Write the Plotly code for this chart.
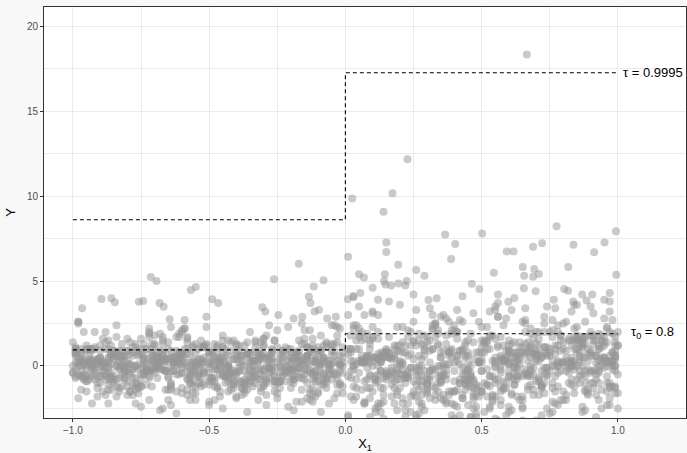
import plotly.graph_objects as go

# ---- data (estimated) ----
left_x = [
-.83,-.12,-.47,-.95,-.31,-.66,-.05,-.74,-.29,-.58,-.91,-.18,-.42,-.87,-.63,-.09,-.36,-.71,-.99,-.24,
-.55,-.14,-.78,-.39,-.97,-.61,-.03,-.46,-.82,-.27,-.69,-.11,-.53,-.89,-.34,-.76,-.21,-.6,-.94,-.07,
-.44,-.85,-.17,-.72,-.33,-.5,-.93,-.26,-.65,-.02,-.79,-.4,-.57,-.15,-.88,-.3,-.68,-.98,-.2,-.52,
-.37,-.8,-.08,-.62,-.45,-.92,-.23,-.7,-.13,-.56,-.86,-.32,-.75,-.01,-.48,-.96,-.28,-.64,-.1,-.84,
-.59,-.19,-.73,-.41,-.9,-.35,-.06,-.67,-.81,-.25,-.54,-1.0,-.16,-.43,-.77,-.38,-.04,-.63,-.88,-.22,
-.5,-.97,-.31,-.7,-.12,-.58,-.84,-.27,-.45,-.93,-.06,-.66,-.39,-.8,-.18,-.53,-.99,-.34,-.73,-.09,
-.61,-.24,-.87,-.42,-.15,-.76,-.3,-.95,-.49,-.02,-.68,-.36,-.82,-.2,-.57,-.91,-.11,-.46,-.74,-.28,
-.65,-.05,-.89,-.4,-.71,-.17,-.55,-.98,-.33,-.79,-.13,-.6,-.26,-.86,-.44,-.08,-.69,-.37,-.94,-.21,
-.52,-.83,-.14,-.47,-.77,-.29,-1.0,-.62,-.03,-.41,-.9,-.23,-.56,-.72,-.1,-.35,-.85,-.48,-.19,-.67,
-.96,-.32,-.58,-.07,-.75,-.43,-.88,-.25,-.64,-.16,-.51,-.81,-.38,-.01,-.7,-.99,-.27,-.54,-.12,-.78,
-.45,-.92,-.2,-.63,-.34,-.86,-.09,-.57,-.74,-.3,-.97,-.41,-.15,-.68,-.49,-.82,-.04,-.6,-.23,-.9,
-.37,-.71,-.13,-.55,-.95,-.28,-.66,-.06,-.8,-.44,-.18,-.87,-.52,-.33,-.76,-.11,-.59,-.93,-.24,-.47,
-.69,-.02,-.84,-.39,-.61,-.17,-.98,-.31,-.73,-.5,-.08,-.89,-.26,-.65,-.42,-.14,-.79,-.35,-.56,-1.0,
-.21,-.62,-.91,-.46,-.1,-.77,-.29,-.53,-.85,-.05,-.4,-.7,-.19,-.94,-.58,-.32,-.83,-.12,-.67,-.48,
-.36,-.88,-.03,-.6,-.25,-.75,-.43,-.96,-.16,-.54,-.81,-.38,-.07,-.72,-.27,-.64,-.99,-.2,-.51,-.86,
-.14,-.57,-.3,-.92,-.45,-.68,-.09,-.78,-.34,-.61,-.22,-.87,-.49,-.01,-.74,-.4,-.95,-.17,-.63,-.28,
-.82,-.11,-.53,-.97,-.37,-.7,-.05,-.59,-.24,-.89,-.44,-.15,-.76,-.32,-.66,-.93,-.08,-.5,-.85,-.19,
-.41,-.73,-.26,-.62,-.98,-.13,-.55,-.35,-.8,-.04,-.69,-.47,-.21,-.91,-.58,-.1,-.77,-.31,-.65,-.99,
-.23,-.84,-.46,-.06,-.71,-.39,-.94,-.18,-.6,-.29,-.87,-.52,-.12,-.75,-.43,-.97,-.33,-.67,-.02,-.56,
-.9,-.27,-.64,-.14,-.81,-.48,-.36,-.72,-.07,-.58,-.95,-.2,-.42,-.86,-.3,-.61,-.16,-.79,-.5,-.03,
-.74,-.38,-.93,-.11,-.55,-.83,-.25,-.68,-.44,-.01,-.88,-.34,-.6,-.17,-.77,-.49,-.96,-.22,-.63,-.09,
-.47,-.85,-.19,-.7,-.31,-.99,-.54,-.13,-.66,-.4,-.82,-.06,-.57,-.28,-.92,-.45,-.15,-.73,-.35,-.62,
-.97,-.24,-.51,-.78,-.08,-.42,-.89,-.3,-.65,-.18,-.53,-.94,-.37,-.71,-.04,-.59,-.83,-.26,-.48,-.12,
-.69,-.33,-.87,-.46,-.1,-.76,-.21,-.6,-.98,-.39,-.14,-.8,-.52,-.29,-.91,-.05,-.67,-.43,-.75,-.23,
-.56,-.02,-.84,-.36,-.63,-.95,-.17,-.5,-.72,-.27,-.88,-.41,-.09,-.58,-.79,-.32,-1.0,-.2,-.45,-.7,
-.13,-.61,-.9,-.38,-.55,-.07,-.81,-.28,-.68,-.44,-.96,-.16,-.74,-.34,-.52,-.86,-.01,-.64,-.25,-.93,
-.4,-.77,-.11,-.57,-.3,-.85,-.49,-.19,-.99,-.66,-.06,-.42,-.73,-.35,-.89,-.15,-.6,-.24,-.82,-.47,
-.71,-.08,-.54,-.92,-.26,-.63,-.37,-.8,-.12,-.5,-.94,-.31,-.69,-.03,-.58,-.21,-.87,-.45,-.76,-.33,
-.18,-.65,-.97,-.43,-.1,-.78,-.29,-.56,-.84,-.39,-.14,-.71,-.91,-.05,-.48,-.62,-.23,-.99,-.36,-.53,
-.86,-.27,-.6,-.04,-.75,-.41,-.93,-.2,-.67,-.32,-.08,-.52,-.81,-.46,-.16,-.72,-.98,-.3,-.57,-.11,
-.04,-.57,-.86,-.22,-.69,-.35,-.92,-.13,-.48,-.78,-.3,-.61,-.97,-.16,-.44,-.74,-.08,-.53,-.89,-.27,
-.66,-.19,-.41,-.95,-.02,-.72,-.5,-.83,-.26,-.6,-.11,-.38,-.79,-.55,-.99,-.33,-.7,-.06,-.46,-.87,
-.28,-.75,-.14,-.52,-.9,-.37,-.64,-.01,-.81,-.45,-.23,-.96,-.58,-.1,-.68,-.31,-.85,-.42,-.17,-.62,
-.93,-.09,-.49,-.77,-.34,-.56,-.18,-.88,-.63,-.03,-.73,-.4,-.98,-.25,-.54,-.82,-.12,-.67,-.36,-.5,
-.15,-.71,-.43,-.07,-.84,-.29,-.59,-.94,-.2,-.47,-.76,-.11,-.65,-.39,-.91,-.05,-.55,-.8,-.32,-.97,
-.6,-.24,-.87,-.45,-.13,-.68,-.99,-.36,-.78,-.02,-.51,-.29,-.93,-.64,-.17,-.42,-.72,-.08,-.85,-.57,
-.33,-.9,-.06,-.62,-.48,-.81,-.21,-.7,-.38,-.96,-.14,-.55,-.87,-.27,-.66,-.01,-.44,-.79,-.19,-.74,
-.52,-.12,-.95,-.31,-.67,-.4,-.83,-.09,-.58,-.23,-.91,-.46,-.75,-.35,-.03,-.63,-.98,-.18,-.5,-.86,
-.79,-.37,-.2,-.73,-.05,-.54,-.89,-.43,-.15,-.68,-.32,-.97,-.6,-.1,-.82,-.47,-.25,-.71,-.39,-.94,
-.07,-.64,-.3,-.88,-.56,-.16,-.77,-.41,-.99,-.22,-.69,-.04,-.53,-.84,-.35,-.61,-.13,-.9,-.45,-.28,
-.71,-.48,-.92,-.17,-.62,-.26,-.84,-.57,-.08,-.39,-.75,-.98,-.3,-.65,-.12,-.5,-.81,-.2,-.95,-.43,
-.36,-.85,-.1,-.58,-.77,-.02,-.46,-.93,-.27,-.7,-.53,-.14,-.88,-.37,-.6,-.06,-.74,-.31,-.49,-.83,
-.99,-.22,-.64,-.41,-.87,-.11,-.55,-.32,-.76,-.19,-.95,-.6,-.04,-.45,-.8,-.28,-.67,-.15,-.9,-.52,
-.14,-.78,-.35,-.96,-.5,-.24,-.69,-.07,-.82,-.43,-.61,-.18,-.91,-.33,-.73,-.56,-.03,-.86,-.4,-.65,
-.47,-.01,-.83,-.25,-.59,-.92,-.38,-.72,-.12,-.54,-.87,-.29,-.68,-.09,-.44,-.97,-.21,-.63,-.8,-.34,
]
left_y = [
.3,-.8,1.2,-.2,.7,-1.4,.1,-.5,1.8,-.1,.4,-2.1,.9,-.7,.2,-1.1,1.4,-.3,.6,.0,
-.4,1.1,-1.7,.2,-.6,.5,2.3,-.1,-1.2,.8,.0,-.9,.4,1.6,-.3,.1,-2.4,.7,-.5,1.3,
.6,-1.0,.2,1.9,-.2,-.7,.4,-1.5,1.0,.1,-.4,.8,-2.0,.3,-.6,1.2,-.1,2.6,-1.3,.5,
-.3,.9,-1.1,.0,1.5,-.8,.3,-.2,2.1,-1.6,.6,.2,-.5,1.1,-.9,.4,-.1,-2.3,.7,1.7,
1.0,-.6,.1,-1.3,.5,2.0,-.2,.8,-.4,-1.9,.3,1.4,-.7,.0,-1.0,.6,2.4,-.3,.2,-.9,
-.1,.4,-1.5,1.3,-.5,.7,-.8,.2,1.8,-2.2,.0,-.3,.9,-1.2,.5,1.1,-.6,.3,-.2,-2.7,
.8,-.9,.2,-.4,1.6,-1.1,.5,.1,-.7,2.2,-.2,-1.4,.6,1.0,-.5,.3,-1.8,.0,1.3,-.1,
-.7,1.2,-.3,.4,-1.2,.9,-.1,2.5,-.6,.1,-2.0,.7,1.5,-.4,.2,-.9,.5,-1.6,1.0,.3,
.2,-1.3,.6,-.2,1.1,-.8,.0,1.7,-.5,.4,-1.0,.9,-.3,2.0,-1.5,.1,-.6,1.3,.5,-2.5,
-.5,.3,1.4,-1.0,.7,-.1,-1.7,.2,.9,-.4,2.3,-.8,.1,-1.2,.6,1.0,-.2,.4,-2.1,.8,
1.1,-.2,-.9,.5,.0,-1.4,1.8,-.6,.3,-.3,.8,-1.1,2.1,.2,-.7,1.3,-1.9,.6,-.1,.4,
-.8,.6,.1,-1.6,1.2,-.4,.4,-2.2,.9,-.1,-.6,1.5,.3,-1.0,.7,-.3,2.7,.0,-1.3,.2,
.5,-1.1,.8,-.3,1.9,-.7,.2,-.5,1.0,-2.3,.4,.1,-.9,1.4,-.2,.6,-1.5,.3,1.1,-.4,
-.2,.9,-1.8,.4,-.6,1.3,.0,-1.2,.7,2.4,-.4,.2,-.8,1.0,-1.4,.5,-.1,1.6,.3,-2.0,
.7,-.5,.3,-1.3,1.1,-.1,-.9,2.0,.1,-.6,.6,-1.7,1.4,-.3,.4,-1.0,.8,-.2,2.9,-.7,
-1.0,.2,1.2,-.4,.5,-2.6,.9,-.2,-.7,1.7,.0,-1.1,.3,.8,-.5,1.3,-1.5,.6,-.3,.1,
.4,-.7,1.5,.0,-1.2,.6,-.3,2.2,-.9,.2,1.0,-.5,-1.6,.7,.3,-.1,1.2,-2.1,.5,-.8,
-.3,1.0,-.6,.3,-1.9,.8,.1,-1.0,1.6,-.4,.5,-.2,2.3,-1.3,.0,.9,-.7,.4,-1.4,1.1,
.9,-1.2,.2,-.5,1.3,.6,-.8,-.1,2.0,-1.7,.4,-.3,1.0,-2.4,.1,.7,-.6,1.5,-1.0,.3,
-.6,.5,-1.4,1.1,.0,-.2,.8,-2.0,.3,1.7,-.9,.2,-.4,1.2,-1.1,.6,2.5,-.5,.1,-1.6,
.1,-.9,1.0,-.3,.7,-1.5,2.1,.4,-.6,.0,1.4,-1.2,.3,-.1,-2.2,.8,-.7,1.1,.5,-.4,
-1.3,.6,-.2,1.8,-.8,.2,-.5,1.0,.4,-1.9,.9,-.1,-1.0,2.4,.1,-.6,1.3,-.3,.7,-2.8,
.3,-.4,1.2,-1.1,.5,-.7,.0,1.6,-2.0,.8,-.2,.2,-1.4,1.0,-.5,2.2,.6,-.9,.4,-1.7,
-.7,1.4,-.1,.4,-1.6,.9,-.4,.1,2.6,-1.0,.6,-.3,1.1,-2.3,.2,-.8,1.7,.0,-1.2,.5,
1.2,-.3,-1.8,.7,.2,-.6,1.5,-1.1,.4,-.1,2.0,-.9,.0,1.0,-1.5,.5,-.4,.8,-2.5,.3,
-.4,.8,.0,-1.3,1.3,-.7,.5,-.2,1.9,-1.0,.3,-2.1,.6,-.5,1.1,.1,-1.6,2.3,-.1,.9,
.6,-1.4,.4,-.2,1.6,-.8,.1,-2.6,1.0,.3,-.5,1.4,-1.1,.7,-.3,.0,2.1,-.9,.5,-1.2,
-.1,.5,-1.0,2.0,-.6,.2,1.2,-1.7,.8,-.4,.4,-1.3,.0,1.8,-.7,.6,-2.2,1.1,-.2,.3,
.8,-.6,.3,-1.5,1.1,-.1,.5,-.9,2.4,-.3,-1.9,.7,.1,1.3,-1.2,.4,-.5,.9,-2.7,.2,
-.9,1.0,-.4,.6,-1.2,1.5,.0,-.2,.8,-2.0,.3,1.2,-.7,.2,-1.4,2.2,-.5,.7,-1.0,.4,
.2,-.5,.7,-.1,.4,-.9,1.0,-.3,.0,.6,-1.2,.3,-.6,1.3,-.2,.5,-.8,.1,-1.5,.8,
-.3,.4,-1.0,.9,.1,-.6,.6,-.2,1.5,-.4,.2,-1.3,.7,.0,-.7,1.1,-.1,.3,-1.8,.5,
.6,-.8,.2,-.4,1.2,.0,-1.1,.5,-.3,.8,-.6,.1,1.6,-.9,.4,-.2,.9,-1.4,.3,-.5,
-.6,.1,.9,-1.2,.3,-.3,.7,-.8,.2,1.4,-.1,-.5,.5,-1.6,1.0,.0,-.4,.6,-.9,.2,
.4,-.2,-.7,1.1,.0,-1.0,.5,.2,-.5,.8,-1.3,.3,-.1,1.2,-.6,.6,-2.0,.1,.9,-.3,
-.1,.7,-.4,.3,-1.4,.9,-.2,.5,-.7,.0,1.3,-.9,.2,-.3,.6,-1.1,1.7,-.5,.4,-.8,
.8,-.6,.1,-1.5,.5,-.1,1.0,-.4,.3,-.8,.6,-1.2,.0,.9,-.3,.2,-.6,1.4,-1.0,.4,
-.4,.3,-.9,.6,-.2,1.2,-.7,.1,-1.7,.7,.4,-.5,1.0,-.1,-1.1,.5,.0,-.3,.8,-.6,
.1,-1.0,.5,-.3,.9,-.6,.2,1.5,-.8,.4,-.2,-1.4,.7,.0,-.5,1.1,-.9,.3,-.1,.6,
-.8,.5,-.2,1.0,-1.2,.3,.0,-.6,.8,-.4,.2,1.3,-1.0,.6,-.3,.1,-1.6,.9,-.5,.4,
.3,-.7,1.1,-.1,.5,-1.1,.0,.7,-.4,-.9,1.6,.2,-.6,.4,-1.3,.8,-.2,.1,1.0,-.5,
-.5,.9,.2,-.8,.0,.6,-1.5,.3,-.3,1.2,-.7,.5,-.1,-1.0,.8,.1,-.4,1.4,-.9,.2,
.7,-.3,-1.2,.4,1.0,-.5,.2,-.8,.6,-.1,.0,-1.6,.9,-.4,.3,-.7,1.3,-.2,.5,-1.1,
-.2,1.1,-.6,.1,-.9,.4,.8,-1.3,.0,.6,-.5,.3,-1.0,1.5,-.3,.2,-.7,.7,-1.8,.5,
.5,-.4,.9,-1.0,.2,-.2,.6,-.7,1.2,.0,-1.4,.4,-.1,.8,-.6,1.0,-.3,.1,-.9,.3,
]
right_x = [
.14,.67,.32,.91,.05,.48,.79,.23,.56,.99,.38,.71,.09,.62,.27,.85,.44,.17,.93,.53,
.36,.82,.11,.59,.96,.29,.74,.03,.47,.68,.21,.88,.4,.15,.77,.55,.98,.31,.64,.07,
.5,.19,.86,.42,.73,.01,.61,.34,.95,.26,.8,.12,.57,.45,.9,.24,.69,.37,.06,.83,
.63,.28,.97,.1,.52,.76,.39,.87,.2,.65,.04,.49,.92,.33,.72,.16,.58,.81,.43,1.0,
.25,.7,.08,.54,.89,.35,.66,.18,.94,.46,.13,.78,.3,.6,.02,.84,.41,.75,.22,.51,
.99,.44,.13,.68,.31,.87,.57,.06,.73,.39,.92,.2,.62,.48,.81,.1,.35,.96,.27,.55,
.71,.04,.59,.26,.84,.43,.16,.93,.51,.77,.33,.65,.09,.88,.22,.47,.7,.38,.97,.15,
.3,.79,.46,.12,.64,.91,.24,.56,.85,.03,.42,.74,.19,.6,.98,.34,.67,.11,.52,.83,
.58,.21,.9,.37,.07,.72,.45,.95,.28,.63,.14,.8,.5,.01,.76,.4,.86,.23,.69,.99,
.17,.61,.32,.89,.53,.08,.75,.41,.94,.26,.66,.13,.82,.47,.36,.91,.05,.57,.73,.29,
.84,.4,.06,.7,.27,.96,.49,.18,.63,.35,.87,.55,.1,.78,.44,1.0,.22,.6,.32,.92,
.46,.15,.8,.53,.02,.68,.38,.93,.25,.74,.11,.58,.88,.3,.65,.19,.97,.42,.07,.76,
.62,.33,.99,.09,.56,.83,.2,.71,.45,.14,.9,.37,.67,.03,.52,.79,.28,.95,.16,.6,
.23,.87,.48,.7,.12,.41,.94,.31,.64,.05,.77,.54,.18,.85,.39,.98,.26,.66,.5,.09,
.75,.04,.57,.36,.91,.21,.69,.47,.13,.82,.6,.29,.96,.43,.08,.73,.34,.88,.55,.17,
.4,.93,.27,.63,.15,.8,.51,.02,.72,.38,.99,.24,.59,.86,.11,.66,.45,.19,.78,.31,
.97,.52,.1,.68,.35,.89,.22,.61,.44,.07,.83,.3,.74,.56,.16,.92,.39,.65,.01,.48,
.18,.71,.42,.95,.26,.58,.06,.84,.33,.67,.5,.13,.9,.37,.76,.21,.62,.99,.28,.54,
.64,.09,.81,.46,.73,.2,.98,.55,.32,.87,.14,.69,.41,.04,.6,.94,.25,.78,.47,.12,
.35,.86,.23,.57,.03,.79,.44,.92,.16,.65,.3,.97,.53,.08,.71,.38,.84,.19,.6,1.0,
.5,.27,.94,.12,.68,.4,.83,.06,.59,.34,.76,.21,.99,.45,.15,.88,.62,.3,.73,.02,
.81,.43,.17,.66,.91,.28,.55,.1,.74,.39,.96,.24,.61,.85,.49,.07,.7,.36,.93,.58,
.11,.63,.37,.89,.22,.52,.78,.04,.46,.95,.31,.67,.14,.82,.56,.26,.99,.41,.72,.19,
.68,.34,.98,.08,.6,.85,.27,.49,.16,.77,.42,.93,.05,.54,.71,.32,.88,.2,.63,.45,
.29,.92,.51,.73,.13,.4,.96,.61,.23,.84,.07,.58,.35,.79,.18,.67,.46,1.0,.1,.55,
.86,.2,.64,.03,.75,.48,.15,.9,.37,.57,.99,.26,.7,.44,.12,.83,.53,.31,.95,.66,
.42,.76,.09,.6,.33,.97,.21,.69,.5,.87,.14,.39,.81,.02,.62,.28,.91,.47,.74,.17,
.57,.13,.88,.36,.71,.05,.53,.94,.24,.65,.41,.8,.19,.98,.3,.59,.08,.85,.45,.7,
.93,.47,.25,.78,.1,.63,.38,.99,.55,.16,.72,.32,.86,.06,.49,.91,.22,.67,.4,.83,
.2,.6,.96,.31,.54,.85,.12,.44,.77,.01,.68,.9,.35,.58,.27,.97,.15,.73,.5,.99,
.06,.58,.83,.27,.71,.39,.94,.15,.46,.8,.33,.62,.97,.21,.5,.75,.09,.55,.88,.3,
.67,.18,.43,.92,.04,.73,.52,.86,.25,.61,.12,.37,.78,.57,.99,.34,.69,.08,.48,.85,
.29,.76,.13,.54,.9,.36,.65,.02,.82,.44,.22,.96,.59,.1,.7,.32,.87,.41,.17,.63,
.93,.07,.51,.79,.35,.57,.19,.89,.64,.03,.74,.42,.98,.24,.53,.84,.11,.68,.38,.49,
.16,.72,.45,.05,.81,.28,.6,.95,.2,.47,.77,.14,.66,.4,.91,.01,.56,.83,.31,1.0,
.62,.26,.88,.44,.12,.69,.99,.35,.78,.03,.5,.3,.94,.65,.18,.43,.73,.08,.86,.58,
.34,.9,.07,.61,.49,.82,.23,.71,.39,.97,.15,.54,.87,.27,.67,.02,.45,.8,.19,.75,
.53,.11,.96,.32,.68,.41,.84,.09,.59,.22,.92,.47,.76,.36,.04,.64,.98,.17,.52,.88,
.78,.38,.21,.74,.06,.55,.89,.43,.14,.69,.31,.97,.6,.1,.83,.46,.25,.72,.37,.93,
.08,.65,.29,.87,.57,.16,.77,.42,.99,.23,.7,.05,.54,.85,.35,.62,.13,.91,.45,.27,
.72,.49,.93,.17,.63,.26,.85,.56,.09,.4,.76,.98,.3,.66,.12,.51,.81,.2,.95,.44,
.37,.86,.1,.59,.78,.02,.47,.94,.28,.71,.53,.14,.89,.36,.61,.06,.74,.32,.5,.84,
1.0,.23,.65,.41,.88,.11,.55,.33,.77,.19,.96,.6,.04,.46,.81,.28,.68,.15,.9,.52,
.13,.79,.34,.97,.5,.24,.7,.07,.83,.43,.62,.18,.92,.33,.73,.57,.03,.87,.4,.66,
.48,.01,.84,.25,.58,.93,.39,.72,.12,.55,.87,.29,.68,.09,.44,.99,.21,.63,.8,.35,
]
right_y = [
.5,-1.2,2.1,-.3,1.0,-2.4,.2,-.7,2.9,-1.6,.8,-3.3,1.5,.0,-.9,1.8,-.5,.4,-2.0,3.2,
-.6,1.6,-2.7,.3,-1.0,.9,3.5,-.2,-1.8,1.2,.1,-1.4,2.4,-.4,.7,-3.1,1.9,-.8,.5,-2.2,
1.1,-1.5,.4,2.7,-.1,-2.9,.8,-.6,1.4,-1.1,.2,3.0,-2.3,.6,-.4,2.0,-1.7,1.3,-3.4,.0,
-.2,1.3,-1.9,.5,2.3,-1.0,.9,-.5,3.6,-2.5,1.0,.2,-.8,1.7,-1.3,-3.6,.4,2.6,-.1,-1.6,
1.5,-.9,.3,-2.1,.7,2.9,-.4,1.2,-1.4,-3.0,.6,2.0,-.7,.1,-1.8,1.0,3.3,-.3,-2.6,.8,
.0,.6,-2.2,1.9,-.6,1.1,-1.2,.4,2.5,-3.5,.2,-.5,1.4,-1.7,.9,3.1,-.9,.3,-2.8,1.6,
1.2,-1.3,.5,-.3,2.2,-1.9,.8,.0,-1.0,3.4,-.2,-2.4,1.0,1.7,-.7,.4,-3.2,.1,2.0,-.6,
-1.1,1.8,-.4,.7,-2.0,1.3,-.1,3.7,-.8,.3,-2.9,1.1,2.3,-.6,.2,-1.5,.9,-2.5,1.5,.5,
.4,-2.2,.9,-.5,1.6,-1.2,.1,2.8,-.9,.6,-1.7,1.4,-.3,3.0,-2.7,.2,-1.0,2.1,.7,-3.7,
-.7,.5,2.2,-1.6,1.0,-.1,-2.8,.3,1.5,-.5,3.4,-1.3,.2,-2.0,.9,1.8,-.4,.6,-3.3,1.2,
1.7,-.3,-1.4,.8,.0,-2.3,2.6,-.9,.4,-.6,1.3,-1.8,3.2,.3,-1.1,2.0,-3.0,.9,-.2,.6,
-1.2,.9,.2,-2.5,1.8,-.6,.6,-3.4,1.4,-.1,-1.0,2.4,.5,-1.6,1.1,-.4,3.8,.1,-2.1,.3,
.8,-1.7,1.2,-.5,2.9,-1.1,.3,-.8,1.5,-3.1,.6,.1,-1.4,2.2,-.2,.9,-2.4,.5,1.7,-.6,
-.3,1.4,-2.8,.6,-.9,2.0,.0,-1.9,1.1,3.5,-.6,.3,-1.3,1.6,-2.2,.8,-.1,2.5,.4,-3.0,
1.0,-.8,.5,-2.0,1.7,-.2,-1.4,3.1,.2,-1.0,.9,-2.6,2.2,-.5,.6,-1.6,1.2,-.3,3.3,-1.1,
-1.5,.3,1.9,-.6,.8,-3.6,1.4,-.3,-1.1,2.6,.0,-1.8,.5,1.2,-.8,2.0,-2.3,.9,-.4,.2,
.6,-1.1,2.3,.0,-1.9,1.0,-.5,3.3,-1.4,.3,1.5,-.8,-2.5,1.1,.5,-.2,1.9,-3.2,.7,-1.3,
-.4,1.6,-1.0,.5,-2.9,1.2,.2,-1.6,2.5,-.6,.8,-.3,3.5,-2.1,.0,1.4,-1.1,.6,-2.2,1.8,
1.4,-1.9,.3,-.8,2.0,.9,-1.2,-.1,3.0,-2.7,.6,-.5,1.6,-3.5,.2,1.1,-.9,2.4,-1.6,.4,
-.9,.8,-2.2,1.7,.0,-.3,1.2,-3.0,.5,2.6,-1.4,.3,-.6,1.9,-1.7,.9,3.6,-.8,.1,-2.5,
.2,-1.4,1.5,-.5,1.1,-2.3,3.2,.6,-1.0,.0,2.1,-1.9,.4,-.2,-3.3,1.3,-1.1,1.7,.8,-.7,
-2.0,.9,-.3,2.7,-1.3,.4,-.8,1.6,.6,-2.9,1.4,-.1,-1.6,3.6,.2,-.9,2.0,-.5,1.0,-3.7,
.5,-.6,1.8,-1.7,.8,-1.1,.0,2.4,-3.0,1.2,-.3,.3,-2.1,1.5,-.8,3.3,.9,-1.4,.6,-2.6,
-1.1,2.1,-.2,.6,-2.4,1.4,-.6,.2,3.8,-1.5,.9,-.4,1.7,-3.4,.3,-1.2,2.6,.0,-1.8,.8,
1.8,-.5,-2.7,1.1,.3,-.9,2.3,-1.7,.6,-.2,3.0,-1.4,.0,1.5,-2.2,.8,-.6,1.2,-3.6,.5,
-.6,1.2,.1,-2.0,2.0,-1.1,.8,-.3,2.8,-1.5,.5,-3.1,.9,-.8,1.6,.2,-2.4,3.4,-.1,1.3,
.9,-2.1,.6,-.3,2.4,-1.2,.2,-3.5,1.5,.5,-.7,2.1,-1.7,1.0,-.4,.0,3.1,-1.3,.7,-1.8,
-.2,.8,-1.5,3.0,-.9,.3,1.8,-2.5,1.2,-.6,.6,-2.0,.1,2.7,-1.1,.9,-3.3,1.6,-.3,.4,
1.2,-.9,.4,-2.3,1.7,-.1,.8,-1.3,3.5,-.5,-2.9,1.0,.2,2.0,-1.8,.6,-.7,1.4,-3.8,.3,
-1.3,1.5,-.6,.9,-1.8,2.3,.0,-.3,1.2,-3.0,.5,1.8,-1.0,.3,-2.1,3.2,-.8,1.1,-1.5,.6,
.3,-.9,1.2,-.2,.7,-1.5,1.8,-.5,.0,1.0,-2.0,.5,-1.0,2.3,-.3,.8,-1.3,.2,-2.6,1.4,
-.5,.6,-1.7,1.5,.1,-1.0,1.0,-.3,2.6,-.7,.4,-2.2,1.2,.0,-1.2,1.9,-.1,.5,-3.0,.8,
1.0,-1.3,.3,-.6,2.0,.1,-1.8,.8,-.4,1.4,-1.0,.2,2.8,-1.5,.7,-.2,1.6,-2.4,.5,-.8,
-1.0,.2,1.5,-2.0,.5,-.4,1.2,-1.4,.4,2.4,-.1,-.8,.8,-2.7,1.7,.0,-.6,1.0,-1.5,.3,
.7,-.3,-1.2,1.9,.0,-1.7,.8,.3,-.8,1.4,-2.2,.5,-.2,2.1,-1.0,1.0,-3.2,.2,1.5,-.5,
-.1,1.2,-.6,.5,-2.4,1.6,-.3,.8,-1.2,.0,2.3,-1.5,.4,-.5,1.0,-1.9,2.9,-.8,.6,-1.3,
1.3,-1.0,.2,-2.6,.8,-.1,1.7,-.7,.5,-1.3,1.0,-2.0,.0,1.5,-.5,.3,-1.0,2.5,-1.7,.6,
-.6,.5,-1.5,1.0,-.3,2.0,-1.2,.2,-2.9,1.2,.6,-.8,1.7,-.1,-1.8,.8,.0,-.5,1.4,-1.0,
.2,-1.7,.8,-.5,1.5,-1.0,.3,2.6,-1.3,.7,-.3,-2.3,1.2,.0,-.8,1.9,-1.5,.5,-.2,1.0,
-1.3,.8,-.3,1.7,-2.0,.5,.0,-1.0,1.4,-.6,.3,2.2,-1.7,1.0,-.5,.2,-2.7,1.5,-.8,.6,
.5,-1.2,1.9,-.1,.8,-1.8,.0,1.2,-.6,-1.5,2.7,.3,-1.0,.7,-2.2,1.3,-.3,.2,1.7,-.8,
-.8,1.5,.3,-1.3,.0,1.0,-2.5,.5,-.5,2.0,-1.2,.8,-.2,-1.7,1.3,.2,-.6,2.4,-1.5,.3,
1.2,-.5,-2.0,.6,1.7,-.8,.3,-1.3,1.0,-.2,.0,-2.7,1.5,-.6,.5,-1.2,2.2,-.3,.8,-1.8,
-.3,1.8,-1.0,.2,-1.5,.7,1.3,-2.2,.0,1.0,-.8,.5,-1.7,2.5,-.5,.3,-1.2,1.2,-3.1,.8,
.8,-.6,1.5,-1.7,.3,-.3,1.0,-1.2,2.0,.0,-2.4,.6,-.2,1.3,-1.0,1.7,-.5,.2,-1.5,.5,
]
# individually placed high points
out_x = [-.966,-.895,-.859,-.846,-.758,-.742,-.714,-.693,-.682,-.667,-.645,-.567,-.549,-.489,-.467,
         -.305,-.294,-.262,-.246,-.171,-.134,-.128,-.116,-.113,-.097,-.08,-.19,-.158,-.067,-.035,
         .01,.05,.009,.055,.03,.666,.228,.025,.173,.14,.366,.403,.502,.15,.15,.388,.194,.26,.29,
         .068,.145,.142,.147,.168,.195,.22,.225,.545,.592,.617,.689,.722,.775,.837,.913,.951,.993,
         .994,.651,.656,.693,.689,.71,.818,.655,.698,.803,.817,.869,.906,.836,.885,.464,.492,.305,
         .335,.598,.765,.029,.43,.97,.95,.56,.1,.12,.25,.62]
out_y = [3.39,3.94,3.98,3.75,3.78,3.82,5.24,5.0,3.7,3.49,2.75,4.47,4.65,3.92,3.7,
         3.45,3.2,5.1,3.0,6.02,4.08,3.7,4.67,3.2,3.3,5.04,2.8,2.9,2.8,2.9,
         6.43,5.39,3.92,4.3,4.04,18.33,12.16,9.86,10.16,9.08,7.73,7.18,7.8,7.26,6.7,6.3,5.96,5.65,5.31,
         5.2,5.4,5.0,4.8,4.74,4.86,4.74,5.0,5.49,6.74,6.74,7.02,7.22,8.22,7.14,6.69,7.26,7.92,
         5.37,5.82,5.31,5.71,5.25,5.41,5.82,4.57,4.39,4.53,4.43,4.2,4.2,3.8,3.86,4.84,4.53,3.88,
         3.98,3.78,3.9,4.12,4.1,4.3,3.9,4.2,4.6,3.9,4.2,4.0]

# quantile step lines
step_x = [-1, 0, 0, 1]
tau_hi_y = [8.6, 8.6, 17.25, 17.25]
tau_lo_y = [0.95, 0.95, 1.9, 1.9]
label_hi = "τ = 0.9995"
label_lo = "τ<sub>0</sub> = 0.8"

x_ticks = [-1.0, -0.5, 0.0, 0.5, 1.0]
y_ticks = [0, 5, 10, 15, 20]

fig = go.Figure()
fig.add_trace(go.Scatter(
    x=left_x + right_x + out_x, y=left_y + right_y + out_y, mode="markers",
    marker=dict(size=8, color="rgba(150,150,150,0.5)", line=dict(width=0)),
    hoverinfo="skip", showlegend=False))
dash = "4px,3px"
fig.add_trace(go.Scatter(x=step_x, y=tau_hi_y, mode="lines",
                         line=dict(color="black", width=1.1, dash=dash), showlegend=False))
fig.add_trace(go.Scatter(x=step_x, y=tau_lo_y, mode="lines",
                         line=dict(color="black", width=1.1, dash=dash), showlegend=False))

fig.add_annotation(x=1.01, y=tau_hi_y[-1], text=label_hi, showarrow=False,
                   xanchor="left", yanchor="middle", font=dict(size=13, color="black"))
fig.add_annotation(x=1.04, y=tau_lo_y[-1] + 0.05, text=label_lo, showarrow=False,
                   xanchor="left", yanchor="middle", font=dict(size=13, color="black"))

grid = "#ebebeb"
axis_common = dict(showline=True, mirror=True, linecolor="#333333", linewidth=1,
                   showgrid=True, gridcolor=grid, gridwidth=1, zeroline=False,
                   ticks="outside", ticklen=3, tickcolor="#333333", tickwidth=1,
                   tickfont=dict(size=10, color="#4d4d4d"))
fig.update_xaxes(range=[-1.106, 1.25], tickvals=x_ticks, tickformat=".1f",
                 minor=dict(dtick=0.25, tick0=-1, showgrid=True, gridcolor=grid, gridwidth=0.5, ticklen=0),
                 title=dict(text="X<sub>1</sub>", font=dict(size=13, color="black"), standoff=4),
                 **axis_common)
fig.update_yaxes(range=[-3.06, 21.12], tickvals=y_ticks,
                 minor=dict(dtick=2.5, tick0=0, showgrid=True, gridcolor=grid, gridwidth=0.5, ticklen=0),
                 title=dict(text="Y", font=dict(size=13, color="black"), standoff=8),
                 **axis_common)
fig.update_layout(width=687, height=453, margin=dict(l=44, r=1, t=7, b=35),
                  paper_bgcolor="#f8f8f8", plot_bgcolor="white",
                  font=dict(family="Liberation Sans, Arial, sans-serif"))
fig.write_html("out.html", config={"displayModeBar": False},
               post_script="document.body.style.margin='0';document.body.style.overflow='hidden';")
